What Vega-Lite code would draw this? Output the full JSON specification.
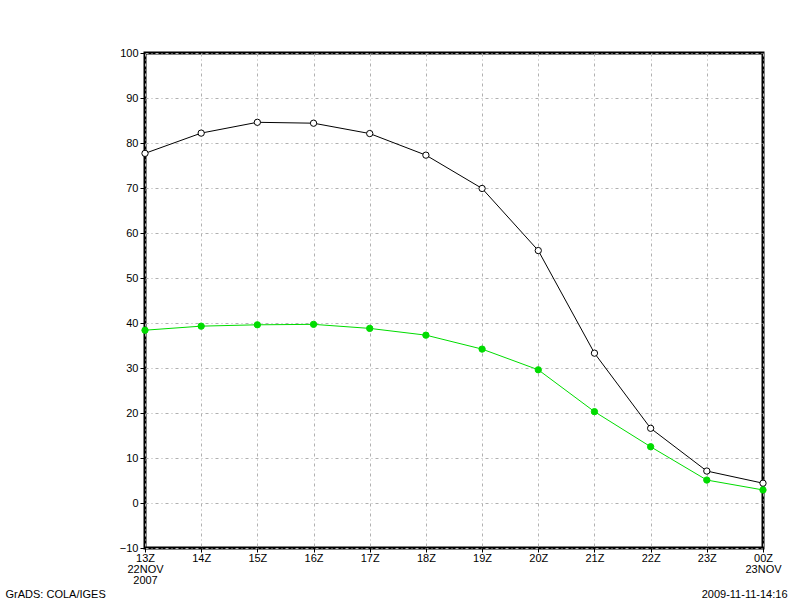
{
  "$schema": "https://vega.github.io/schema/vega-lite/v6.json",
  "width": 618,
  "height": 495,
  "autosize": "none",
  "padding": {"left": 145, "top": 53, "right": 37, "bottom": 52},
  "background": "white",
  "config": {
    "view": {"stroke": "black", "strokeWidth": 3},
    "font": "Liberation Sans"
  },
  "data": {
    "values": [
      {"h": 0, "s": "a", "v": 77.7},
      {"h": 1, "s": "a", "v": 82.2},
      {"h": 2, "s": "a", "v": 84.6},
      {"h": 3, "s": "a", "v": 84.4},
      {"h": 4, "s": "a", "v": 82.1},
      {"h": 5, "s": "a", "v": 77.3},
      {"h": 6, "s": "a", "v": 69.9},
      {"h": 7, "s": "a", "v": 56.1},
      {"h": 8, "s": "a", "v": 33.3},
      {"h": 9, "s": "a", "v": 16.6},
      {"h": 10, "s": "a", "v": 7.1},
      {"h": 11, "s": "a", "v": 4.4},
      {"h": 0, "s": "b", "v": 38.4},
      {"h": 1, "s": "b", "v": 39.3},
      {"h": 2, "s": "b", "v": 39.6},
      {"h": 3, "s": "b", "v": 39.7},
      {"h": 4, "s": "b", "v": 38.8},
      {"h": 5, "s": "b", "v": 37.3},
      {"h": 6, "s": "b", "v": 34.2},
      {"h": 7, "s": "b", "v": 29.6},
      {"h": 8, "s": "b", "v": 20.3},
      {"h": 9, "s": "b", "v": 12.5},
      {"h": 10, "s": "b", "v": 5.1},
      {"h": 11, "s": "b", "v": 2.9}
    ]
  },
  "encoding": {
    "x": {
      "field": "h",
      "type": "quantitative",
      "scale": {"domain": [0, 11], "nice": false, "zero": false},
      "axis": {
        "values": [0, 1, 2, 3, 4, 5, 6, 7, 8, 9, 10, 11],
        "labelExpr": "datum.value == 0 ? ['13Z','22NOV','2007'] : datum.value == 11 ? ['00Z','23NOV'] : (13 + datum.value) + 'Z'",
        "grid": true,
        "gridColor": "#b0b0b0",
        "gridDash": [3, 3, 1, 3],
        "gridWidth": 1,
        "domain": false,
        "ticks": true,
        "tickColor": "black",
        "tickSize": 4,
        "labelFontSize": 11,
        "labelColor": "black",
        "labelPadding": 0,
        "labelLineHeight": 11,
        "labelFlush": false,
        "labelOverlap": false,
        "title": "2009-11-11-14:16",
        "titleX": 642,
        "titleY": 46,
        "titleAlign": "right",
        "titleBaseline": "middle",
        "titleFontSize": 11,
        "titleFontWeight": "normal",
        "titleColor": "black"
      }
    },
    "y": {
      "field": "v",
      "type": "quantitative",
      "scale": {"domain": [-10, 100], "nice": false, "zero": false},
      "axis": {
        "values": [-10, 0, 10, 20, 30, 40, 50, 60, 70, 80, 90, 100],
        "grid": true,
        "gridColor": "#b0b0b0",
        "gridDash": [3, 3, 1, 3],
        "gridWidth": 1,
        "domain": false,
        "tickColor": "black",
        "tickSize": 5,
        "labelFontSize": 11,
        "labelColor": "black",
        "labelPadding": 2,
        "labelFlush": false,
        "labelOverlap": false,
        "title": "GrADS: COLA/IGES",
        "titleX": -140,
        "titleY": 541,
        "titleAngle": 0,
        "titleAlign": "left",
        "titleBaseline": "middle",
        "titleFontSize": 11,
        "titleFontWeight": "normal",
        "titleColor": "black"
      }
    }
  },
  "layer": [
    {
      "mark": {"type": "line", "strokeWidth": 1},
      "encoding": {
        "stroke": {"field": "s", "type": "nominal", "scale": {"domain": ["a", "b"], "range": ["black", "#00dc00"]}, "legend": null}
      }
    },
    {
      "mark": {"type": "point", "shape": "circle", "size": 40, "strokeWidth": 1, "opacity": 1, "fillOpacity": 1},
      "encoding": {
        "stroke": {"field": "s", "type": "nominal", "scale": {"domain": ["a", "b"], "range": ["black", "#00dc00"]}, "legend": null},
        "fill": {"field": "s", "type": "nominal", "scale": {"domain": ["a", "b"], "range": ["white", "#00dc00"]}, "legend": null}
      }
    }
  ]
}
